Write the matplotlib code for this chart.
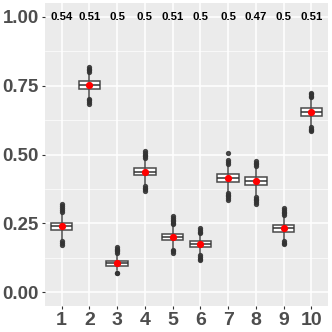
import matplotlib.pyplot as plt
from matplotlib.ticker import MultipleLocator

plt.rcParams['font.family'] = ['Liberation Sans', 'DejaVu Sans']

# group labels and summary values
groups = ['1', '2', '3', '4', '5', '6', '7', '8', '9', '10']
medians = [0.240, 0.751, 0.106, 0.437, 0.201, 0.174, 0.414, 0.404, 0.233, 0.656]
means = [0.240, 0.751, 0.106, 0.437, 0.201, 0.174, 0.414, 0.403, 0.233, 0.656]
q1 = [0.226, 0.738, 0.097, 0.424, 0.190, 0.163, 0.399, 0.390, 0.220, 0.641]
q3 = [0.252, 0.767, 0.115, 0.451, 0.213, 0.185, 0.428, 0.418, 0.244, 0.670]
whis_lo = [0.195, 0.708, 0.080, 0.392, 0.160, 0.138, 0.365, 0.352, 0.190, 0.605]
whis_hi = [0.285, 0.795, 0.140, 0.483, 0.243, 0.211, 0.462, 0.457, 0.277, 0.707]
fliers = [
    [0.290, 0.298, 0.306, 0.313, 0.320, 0.185, 0.179, 0.173],
    [0.800, 0.806, 0.812, 0.819, 0.703, 0.697, 0.690, 0.684],
    [0.143, 0.148, 0.153, 0.158, 0.163, 0.070, 0.068],
    [0.487, 0.493, 0.499, 0.505, 0.512, 0.386, 0.380, 0.373, 0.366],
    [0.246, 0.252, 0.258, 0.264, 0.270, 0.276, 0.154, 0.148, 0.142],
    [0.215, 0.220, 0.226, 0.233, 0.134, 0.128, 0.122, 0.117],
    [0.467, 0.473, 0.479, 0.506, 0.360, 0.354, 0.348, 0.342, 0.336],
    [0.459, 0.464, 0.469, 0.475, 0.346, 0.340, 0.334, 0.328, 0.322],
    [0.280, 0.286, 0.292, 0.298, 0.304, 0.186, 0.180, 0.175],
    [0.709, 0.714, 0.719, 0.725, 0.600, 0.594, 0.589, 0.584],
]
top_labels = ['0.54', '0.51', '0.5', '0.5', '0.51', '0.5', '0.5', '0.47', '0.5', '0.51']

stats = []
for i in range(len(groups)):
    stats.append({'med': medians[i], 'q1': q1[i], 'q3': q3[i],
                  'whislo': whis_lo[i], 'whishi': whis_hi[i],
                  'fliers': fliers[i], 'label': groups[i]})

fig = plt.figure(figsize=(3.32, 3.32), dpi=100)
ax = fig.add_axes([45 / 332, 26 / 332, 283 / 332, 303 / 332])
ax.set_facecolor('#EBEBEB')

pos = list(range(1, len(groups) + 1))
ax.bxp(stats, positions=pos, widths=0.78, patch_artist=True,
       boxprops=dict(facecolor='white', edgecolor='#4a4a4a', linewidth=1.1),
       medianprops=dict(color='#333333', linewidth=1.1),
       whiskerprops=dict(color='#4a4a4a', linewidth=1.1),
       capprops=dict(linewidth=0),
       flierprops=dict(marker='o', markerfacecolor='#333333', markeredgecolor='#333333',
                       markersize=2.8, alpha=0.85),
       zorder=3)
ax.plot(pos, means, 'o', color='red', markersize=4.2, zorder=5)

for p, lab in zip(pos, top_labels):
    ax.text(p, 1.0, lab, ha='center', va='center', fontsize=8.2, fontweight='bold', color='black')

ax.set_xlim(0.4, 10.6)
ax.set_ylim(-0.05, 1.05)
ax.yaxis.set_major_locator(MultipleLocator(0.25))
ax.yaxis.set_minor_locator(MultipleLocator(0.125))
ax.set_yticks([0, 0.25, 0.5, 0.75, 1.0])
ax.set_yticklabels(['0.00', '0.25', '0.50', '0.75', '1.00'])
ax.set_xticks(pos)
ax.set_xticklabels(groups)
ax.grid(which='major', color='white', linewidth=1.1, zorder=0)
ax.grid(which='minor', axis='y', color='white', linewidth=0.5, zorder=0)
ax.set_axisbelow(True)
for s in ax.spines.values():
    s.set_visible(False)
ax.tick_params(axis='both', which='major', length=2.5, color='#333333', width=0.8,
               labelcolor='#4D4D4D', pad=2)
ax.tick_params(axis='y', which='minor', length=0)
for t in ax.get_yticklabels():
    t.set_fontsize(13.4)
    t.set_fontweight('bold')
for t in ax.get_xticklabels():
    t.set_fontsize(14)
    t.set_fontweight('bold')

fig.savefig('out.png', dpi=100)
